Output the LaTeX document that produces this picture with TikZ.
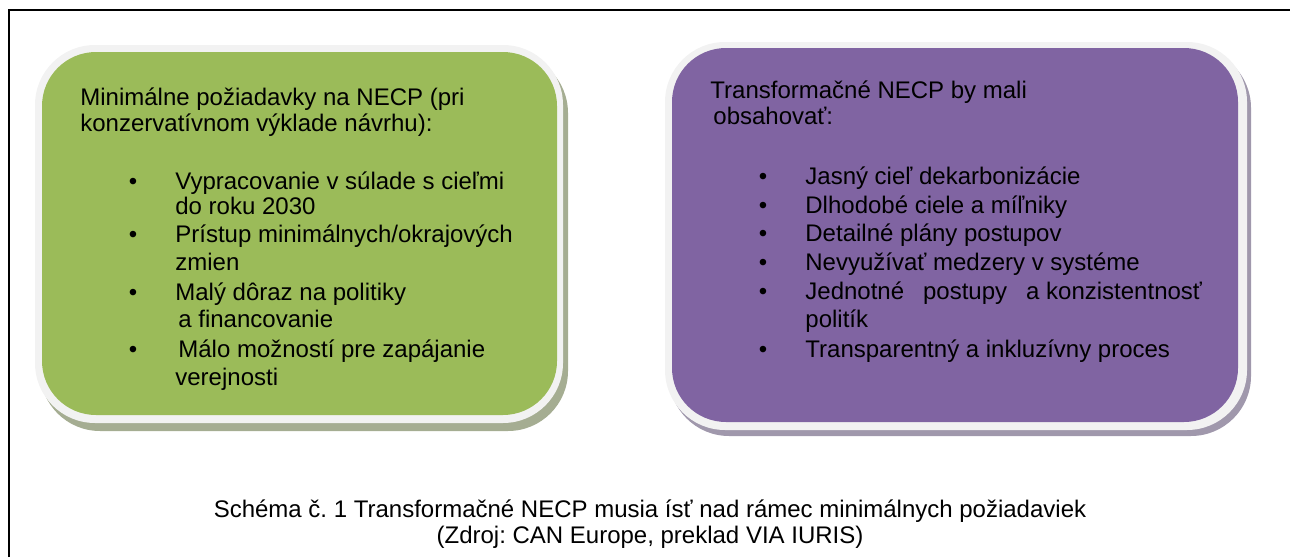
\documentclass[tikz,border=0pt]{standalone}
\usepackage{fontspec}
\setmainfont{Liberation Sans}
\frenchspacing
\definecolor{cardgreen}{HTML}{9BBB59}
\definecolor{cardpurple}{HTML}{8064A2}
\definecolor{cardrim}{HTML}{F2F2F2}
\definecolor{greenshade}{HTML}{A5AD92}
\definecolor{purpleshade}{HTML}{A098AC}

\begin{document}
\begin{tikzpicture}[x=0.5pt, y=-0.5pt,
		txt/.style={anchor=base west, inner sep=0pt, font=\fontsize{12}{14}\selectfont},
		dot/.style={anchor=base, inner sep=0pt, font=\fontsize{12}{14}\selectfont},
		capline/.style={anchor=base, inner sep=0pt, font=\fontsize{12}{14}\selectfont},
		card/.style={rounded corners=30pt}]
		\useasboundingbox (0,0) rectangle (1290,557);
		
		% ---------- Frame (open on right and bottom) ----------
		\draw[line width=1pt] (9,557) -- (9,10) -- (1290,10);
		
		% ---------- Left card: minimum requirements ----------
		\fill[card, greenshade] (40,53) rectangle (568,431);
		\fill[card, cardrim] (35,45) rectangle (563,423);
		\fill[card, cardgreen, rounded corners=27pt] (42,52) rectangle (557,415);
		
		% ---------- Right card: transformative NECP ----------
		\fill[card, purpleshade] (669,48) rectangle (1251,436);
		\fill[card, cardrim] (665,42) rectangle (1247,430);
		\fill[card, cardpurple, rounded corners=27pt] (672,48) rectangle (1238,422);
		
		% ---------- Left card text ----------
		\node[txt] (lhead-1) at (80,105) {Minimálne požiadavky na NECP (pri};
		\node[txt] (lhead-2) at (80,131) {konzervatívnom výklade návrhu):};
		\foreach \xb/\yb/\txt [count=\i] in {
			175/189/{Vypracovanie v súlade s cieľmi},
			175/214/{do roku 2030},
			175/242/{Prístup minimálnych/okrajových},
			175/270/{zmien},
			175/300/{Malý dôraz na politiky},
			178/327/{a financovanie},
			178/357/{Málo možností pre zapájanie},
			175/385/{verejnosti}}
		\node[txt] (left-\i) at (\xb,\yb) {\txt};
		\foreach \yb [count=\i] in {189,242,300,357}
		\node[dot] (ldot-\i) at (133,\yb) {\textbullet};
		
		% ---------- Right card text ----------
		\node[txt] (rhead-1) at (710,98) {Transformačné NECP by mali};
		\node[txt] (rhead-2) at (713,124) {obsahovať:};
		\foreach \yb/\txt [count=\i] in {
			184/{Jasný cieľ dekarbonizácie},
			213/{Dlhodobé ciele a míľniky},
			241/{Detailné plány postupov},
			270/{Nevyužívať medzery v systéme},
			299/{Jednotné\hspace{9.5pt}postupy\hspace{9.5pt}a konzistentnosť},
			327/{politík},
			357/{Transparentný a inkluzívny proces}}
		\node[txt] (right-\i) at (805,\yb) {\txt};
		\foreach \yb [count=\i] in {184,213,241,270,299,357}
		\node[dot] (rdot-\i) at (763,\yb) {\textbullet};
		
		% ---------- Caption ----------
		\node[capline] (cap-1) at (650,517) {Schéma č. 1 Transformačné NECP musia ísť nad rámec minimálnych požiadaviek};
		\node[capline] (cap-2) at (650,543) {(Zdroj: CAN Europe, preklad VIA IURIS)};
		
	\end{tikzpicture}
\end{document}
